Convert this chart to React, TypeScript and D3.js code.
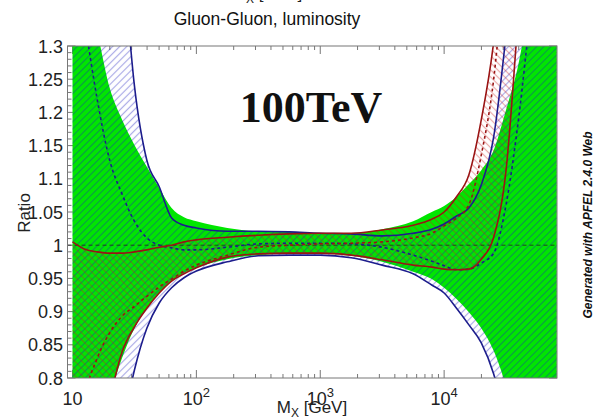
import React from 'react';
import * as d3 from 'd3';

// M_X grid (GeV)
const massGeV = [10, 12.59, 15.85, 19.95, 25.12, 31.62, 39.81, 50.12, 63.1, 79.43, 100, 177.8, 316.2, 562.3, 1000, 1778, 3162, 5623, 7943, 10000, 12589, 15849, 19953, 25119, 31623, 39811, 50119, 63096, 81283];

// Green band (reference set)
const greenUpper = [1.55, 1.40, 1.321, 1.237, 1.189, 1.151, 1.118, 1.086, 1.056, 1.042, 1.036, 1.026, 1.021, 1.020, 1.018, 1.018, 1.024, 1.036, 1.050, 1.059, 1.073, 1.092, 1.113, 1.143, 1.204, 1.273, 1.38, 1.5, 1.6];
const greenLower = [0.55, 0.65, 0.72, 0.774, 0.830, 0.875, 0.905, 0.928, 0.946, 0.958, 0.966, 0.979, 0.985, 0.987, 0.987, 0.984, 0.975, 0.960, 0.949, 0.936, 0.919, 0.899, 0.875, 0.841, 0.788, 0.72, 0.65, 0.55, 0.45];

// Blue set
const blueUpper = [2.25, 2.05, 1.85, 1.65, 1.45, 1.240, 1.128, 1.088, 1.041, 1.030, 1.026, 1.021, 1.021, 1.020, 1.018, 1.017, 1.014, 1.018, 1.024, 1.032, 1.044, 1.056, 1.091, 1.163, 1.317, 1.5, 1.7, 1.9, 2.1];
const blueLower = [0.3, 0.4, 0.5, 0.6, 0.72, 0.812, 0.875, 0.913, 0.936, 0.951, 0.961, 0.975, 0.984, 0.985, 0.985, 0.981, 0.970, 0.957, 0.940, 0.928, 0.905, 0.880, 0.853, 0.806, 0.73, 0.6, 0.5, 0.4, 0.3];
const blueCentral = [1.47, 1.336, 1.219, 1.128, 1.077, 1.036, 1.011, 1.000, 0.996, 0.993, 0.993, 0.997, 1.002, 1.003, 1.003, 1.002, 0.997, 0.985, 0.976, 0.969, 0.963, 0.964, 0.973, 0.988, 1.061, 1.189, 1.354, 1.5, 1.7];

// Red set
const redUpper = [1.005, 0.994, 0.990, 0.988, 0.988, 0.990, 0.993, 0.997, 1.000, 1.005, 1.008, 1.012, 1.015, 1.017, 1.018, 1.018, 1.023, 1.030, 1.039, 1.050, 1.073, 1.106, 1.189, 1.306, 1.5, 1.7, 1.9, 2.1, 2.3];
const redLower = [0.5, 0.6, 0.68, 0.767, 0.839, 0.877, 0.905, 0.928, 0.946, 0.957, 0.966, 0.982, 0.987, 0.988, 0.988, 0.985, 0.978, 0.970, 0.967, 0.964, 0.963, 0.964, 0.979, 1.012, 1.113, 1.35, 1.6, 1.8, 2.0];
const redCentral = [0.62, 0.77, 0.830, 0.868, 0.893, 0.908, 0.923, 0.937, 0.949, 0.961, 0.970, 0.985, 0.997, 1.000, 1.002, 1.003, 1.005, 1.011, 1.018, 1.029, 1.041, 1.061, 1.136, 1.25, 1.45, 1.65, 1.85, 2.05, 2.25];

// Tick labels
const yTickValues = [0.8, 0.85, 0.9, 0.95, 1.0, 1.05, 1.1, 1.15, 1.2, 1.25, 1.3];
const yTickLabels = ['0.8', '0.85', '0.9', '0.95', '1', '1.05', '1.1', '1.15', '1.2', '1.25', '1.3'];
const xTickDecades = [10, 100, 1000, 10000];
const xTickExponents = ['', '2', '3', '4'];

const W = 610;
const H = 418;
const plot = { left: 67.5, right: 557, top: 46, bottom: 378 };
const FONT = "'Liberation Sans', Arial, Helvetica, sans-serif";

const GREEN = '#00e600';
const BLUE = '#1c1c8c';
const RED = '#9a1414';

export default function App() {
  const x = d3.scaleLog().domain([9.11, 81500]).range([plot.left, plot.right]);
  const y = d3.scaleLinear().domain([0.8, 1.3]).range([plot.bottom, plot.top]);

  const band = (lo: number[], hi: number[]) =>
    d3.area<number>()
      .x((d) => x(d))
      .y0((_, i) => y(lo[i]))
      .y1((_, i) => y(hi[i]))
      .curve(d3.curveMonotoneX)(massGeV) || '';
  const line = (v: number[]) =>
    d3.line<number>()
      .x((d) => x(d))
      .y((_, i) => y(v[i]))
      .curve(d3.curveMonotoneX)(massGeV) || '';

  const yMinor = d3.range(80, 131).map((v) => v / 100);
  const xMinor: number[] = [];
  xTickDecades.forEach((d) => {
    for (let k = 2; k <= 9; k++) {
      const v = k * d;
      if (v < x.domain()[1]) xMinor.push(v);
    }
  });

  const tickColor = '#777';

  return (
    <svg width={W} height={H} style={{ position: 'absolute', left: 0, top: 0, background: '#fff' }}>
      <defs>
        <clipPath id="plotClip">
          <rect x={plot.left} y={plot.top} width={plot.right - plot.left} height={plot.bottom - plot.top} />
        </clipPath>
        <pattern id="hatchBlue" patternUnits="userSpaceOnUse" width={5} height={5} patternTransform="rotate(45)">
          <line x1={2.5} y1={0} x2={2.5} y2={5} stroke="rgba(30,30,190,0.38)" strokeWidth={1.2} />
        </pattern>
        <pattern id="hatchRed" patternUnits="userSpaceOnUse" width={5} height={5} patternTransform="rotate(-45)">
          <line x1={2.5} y1={0} x2={2.5} y2={5} stroke="rgba(200,30,30,0.38)" strokeWidth={1.2} />
        </pattern>
      </defs>

      <rect x={0} y={0} width={W} height={H} fill="#fff" />

      {/* ticks */}
      <g stroke={tickColor} strokeWidth={1}>
        {yMinor.map((v, i) => {
          const major = Math.round(v * 100) % 5 === 0;
          const len = major ? 8 : 4;
          return (
            <g key={'yt' + i}>
              <line x1={plot.left} x2={plot.left + len} y1={y(v)} y2={y(v)} />
              <line x1={plot.right} x2={plot.right - len} y1={y(v)} y2={y(v)} />
            </g>
          );
        })}
        {xMinor.map((v, i) => (
          <g key={'xm' + i}>
            <line x1={x(v)} x2={x(v)} y1={plot.bottom} y2={plot.bottom - 4} />
            <line x1={x(v)} x2={x(v)} y1={plot.top} y2={plot.top + 4} />
          </g>
        ))}
        {xTickDecades.map((v, i) => (
          <g key={'xM' + i}>
            <line x1={x(v)} x2={x(v)} y1={plot.bottom} y2={plot.bottom - 8} />
            <line x1={x(v)} x2={x(v)} y1={plot.top} y2={plot.top + 8} />
          </g>
        ))}
      </g>

      <g clipPath="url(#plotClip)">
        <path d={band(greenLower, greenUpper)} fill={GREEN} />
        <path d={band(blueLower, blueUpper)} fill="url(#hatchBlue)" />
        <path d={band(redLower, redUpper)} fill="url(#hatchRed)" />
        <line x1={plot.left} x2={plot.right} y1={y(1)} y2={y(1)} stroke="#222" strokeWidth={0.8} strokeDasharray="4,3" />
        <path d={line(blueUpper)} fill="none" stroke={BLUE} strokeWidth={1.6} />
        <path d={line(blueLower)} fill="none" stroke={BLUE} strokeWidth={1.6} />
        <path d={line(blueCentral)} fill="none" stroke={BLUE} strokeWidth={1.6} strokeDasharray="3,3" />
        <path d={line(redUpper)} fill="none" stroke={RED} strokeWidth={1.6} />
        <path d={line(redLower)} fill="none" stroke={RED} strokeWidth={1.6} />
        <path d={line(redCentral)} fill="none" stroke={RED} strokeWidth={1.6} strokeDasharray="3,3" />
      </g>

      <rect x={plot.left} y={plot.top} width={plot.right - plot.left} height={plot.bottom - plot.top} fill="none" stroke={tickColor} strokeWidth={1} />

      {/* y tick labels */}
      <g fontFamily={FONT} fontSize={18} fill="#222" textAnchor="end">
        {yTickValues.map((v, i) => (
          <text key={'yl' + i} x={63} y={y(v) + 6.5}>{yTickLabels[i]}</text>
        ))}
      </g>

      {/* x tick labels */}
      <g fontFamily={FONT} fontSize={18} fill="#222" textAnchor="middle">
        {xTickDecades.map((v, i) => (
          <text key={'xl' + i} x={x(v)} y={405}>
            <tspan>10</tspan>
            {xTickExponents[i] && <tspan dy={-8} fontSize={13}>{xTickExponents[i]}</tspan>}
          </text>
        ))}
      </g>

      {/* axis titles */}
      <text x={312} y={413} fontFamily={FONT} fontSize={17} fill="#222" textAnchor="middle">
        <tspan>M</tspan><tspan dy={4} fontSize={12}>X</tspan><tspan dy={-4}> [GeV]</tspan>
      </text>
      <text x={267} y={-1} fontFamily={FONT} fontSize={17} fill="#222" textAnchor="middle">
        <tspan>M</tspan><tspan dy={4} fontSize={12}>X</tspan><tspan dy={-4}> [GeV]</tspan>
      </text>
      <text x={267} y={25} fontFamily={FONT} fontSize={17.5} fill="#111" textAnchor="middle">Gluon-Gluon, luminosity</text>
      <text transform="translate(30,213) rotate(-90)" fontFamily={FONT} fontSize={17} fill="#222" textAnchor="middle">Ratio</text>
      <text x={311} y={122} fontFamily="'Liberation Serif', 'Times New Roman', serif" fontWeight="bold" fontSize={44} fill="#111" textAnchor="middle">100TeV</text>
      <text transform="translate(592,225) rotate(-90)" fontFamily={FONT} fontWeight="bold" fontStyle="italic" fontSize={12} fill="#111" textAnchor="middle">Generated with APFEL 2.4.0 Web</text>
    </svg>
  );
}
